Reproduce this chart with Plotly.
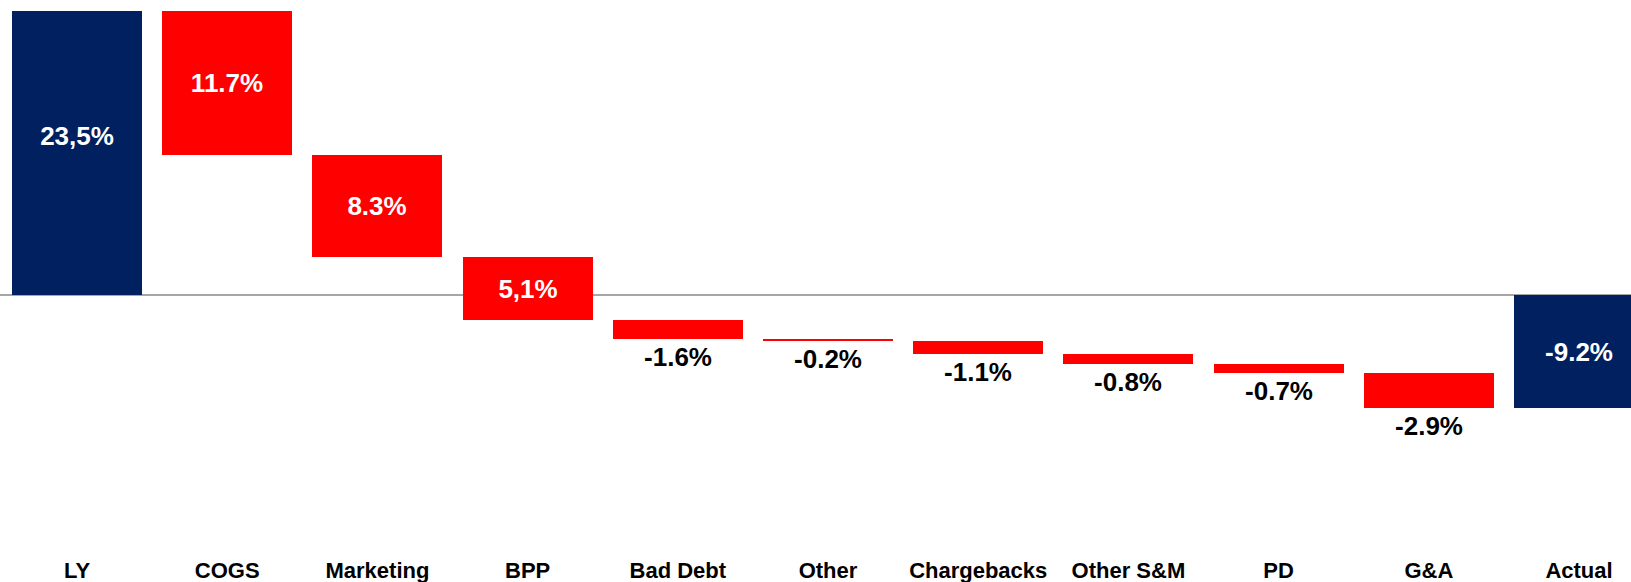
import numpy as np
import plotly.graph_objects as go

categories = ["LY", "COGS", "Marketing", "BPP", "Bad Debt", "Other",
              "Chargebacks", "Other S&M", "PD", "G&A", "Actual"]
# bar lengths (change in margin, % points)
steps = [23.5, -11.92, -8.44, -5.21, -1.54, -0.19, -1.10, -0.78, -0.75, -2.89]
actual = -9.32
value_labels = ["23,5%", "11.7%", "8.3%", "5,1%", "-1.6%", "-0.2%",
                "-1.1%", "-0.8%", "-0.7%", "-2.9%", "-9.2%"]

NAVY = "#002060"
RED = "#FF0000"

ends = np.cumsum(steps)
bases = np.concatenate([[0.0], ends[:-1], [0.0]])
lengths = list(steps) + [actual]
colors = [NAVY] + [RED] * (len(steps) - 1) + [NAVY]
inside = [True, True, True, True] + [False] * 6 + [True]
positions = ["inside" if f else "outside" for f in inside]
text_colors = ["white" if f else "black" for f in inside]

# the first label sits a little above the middle of its bar in the original
bar_text = list(value_labels)
bar_text[0] = bar_text[0] + "<br> "

fig = go.Figure(go.Bar(
    x=categories,
    y=lengths,
    base=bases,
    marker=dict(color=colors, line=dict(width=0)),
    width=0.865,
    text=bar_text,
    textposition=positions,
    insidetextanchor="middle",
    textangle=0,
    textfont=dict(family="Liberation Sans, Arial, sans-serif", size=26,
                  color=text_colors, weight="bold"),
    cliponaxis=False,
    hoverinfo="skip",
))

fig.update_layout(
    width=1631, height=582,
    margin=dict(l=0, r=0, t=0, b=27),
    paper_bgcolor="white", plot_bgcolor="white",
    showlegend=False,
    bargap=0,
    xaxis=dict(
        range=[-0.5127, 10.346],
        showgrid=False, showline=False, ticks="", zeroline=False,
        automargin=False,
        tickfont=dict(family="Liberation Sans Narrow, Arial Narrow, Liberation Sans, sans-serif",
                      size=22, color="black", weight="bold"),
    ),
    yaxis=dict(
        range=[-21.5, 24.4],
        showgrid=False, showticklabels=False, ticks="", showline=False,
        automargin=False,
        zeroline=True, zerolinecolor="#A6A6A6", zerolinewidth=2,
    ),
    uniformtext=dict(minsize=26, mode="show"),
)

fig.write_html(
    "out.html",
    config={"displayModeBar": False},
    post_script="document.body.style.margin='0';document.body.style.overflow='hidden';",
)
